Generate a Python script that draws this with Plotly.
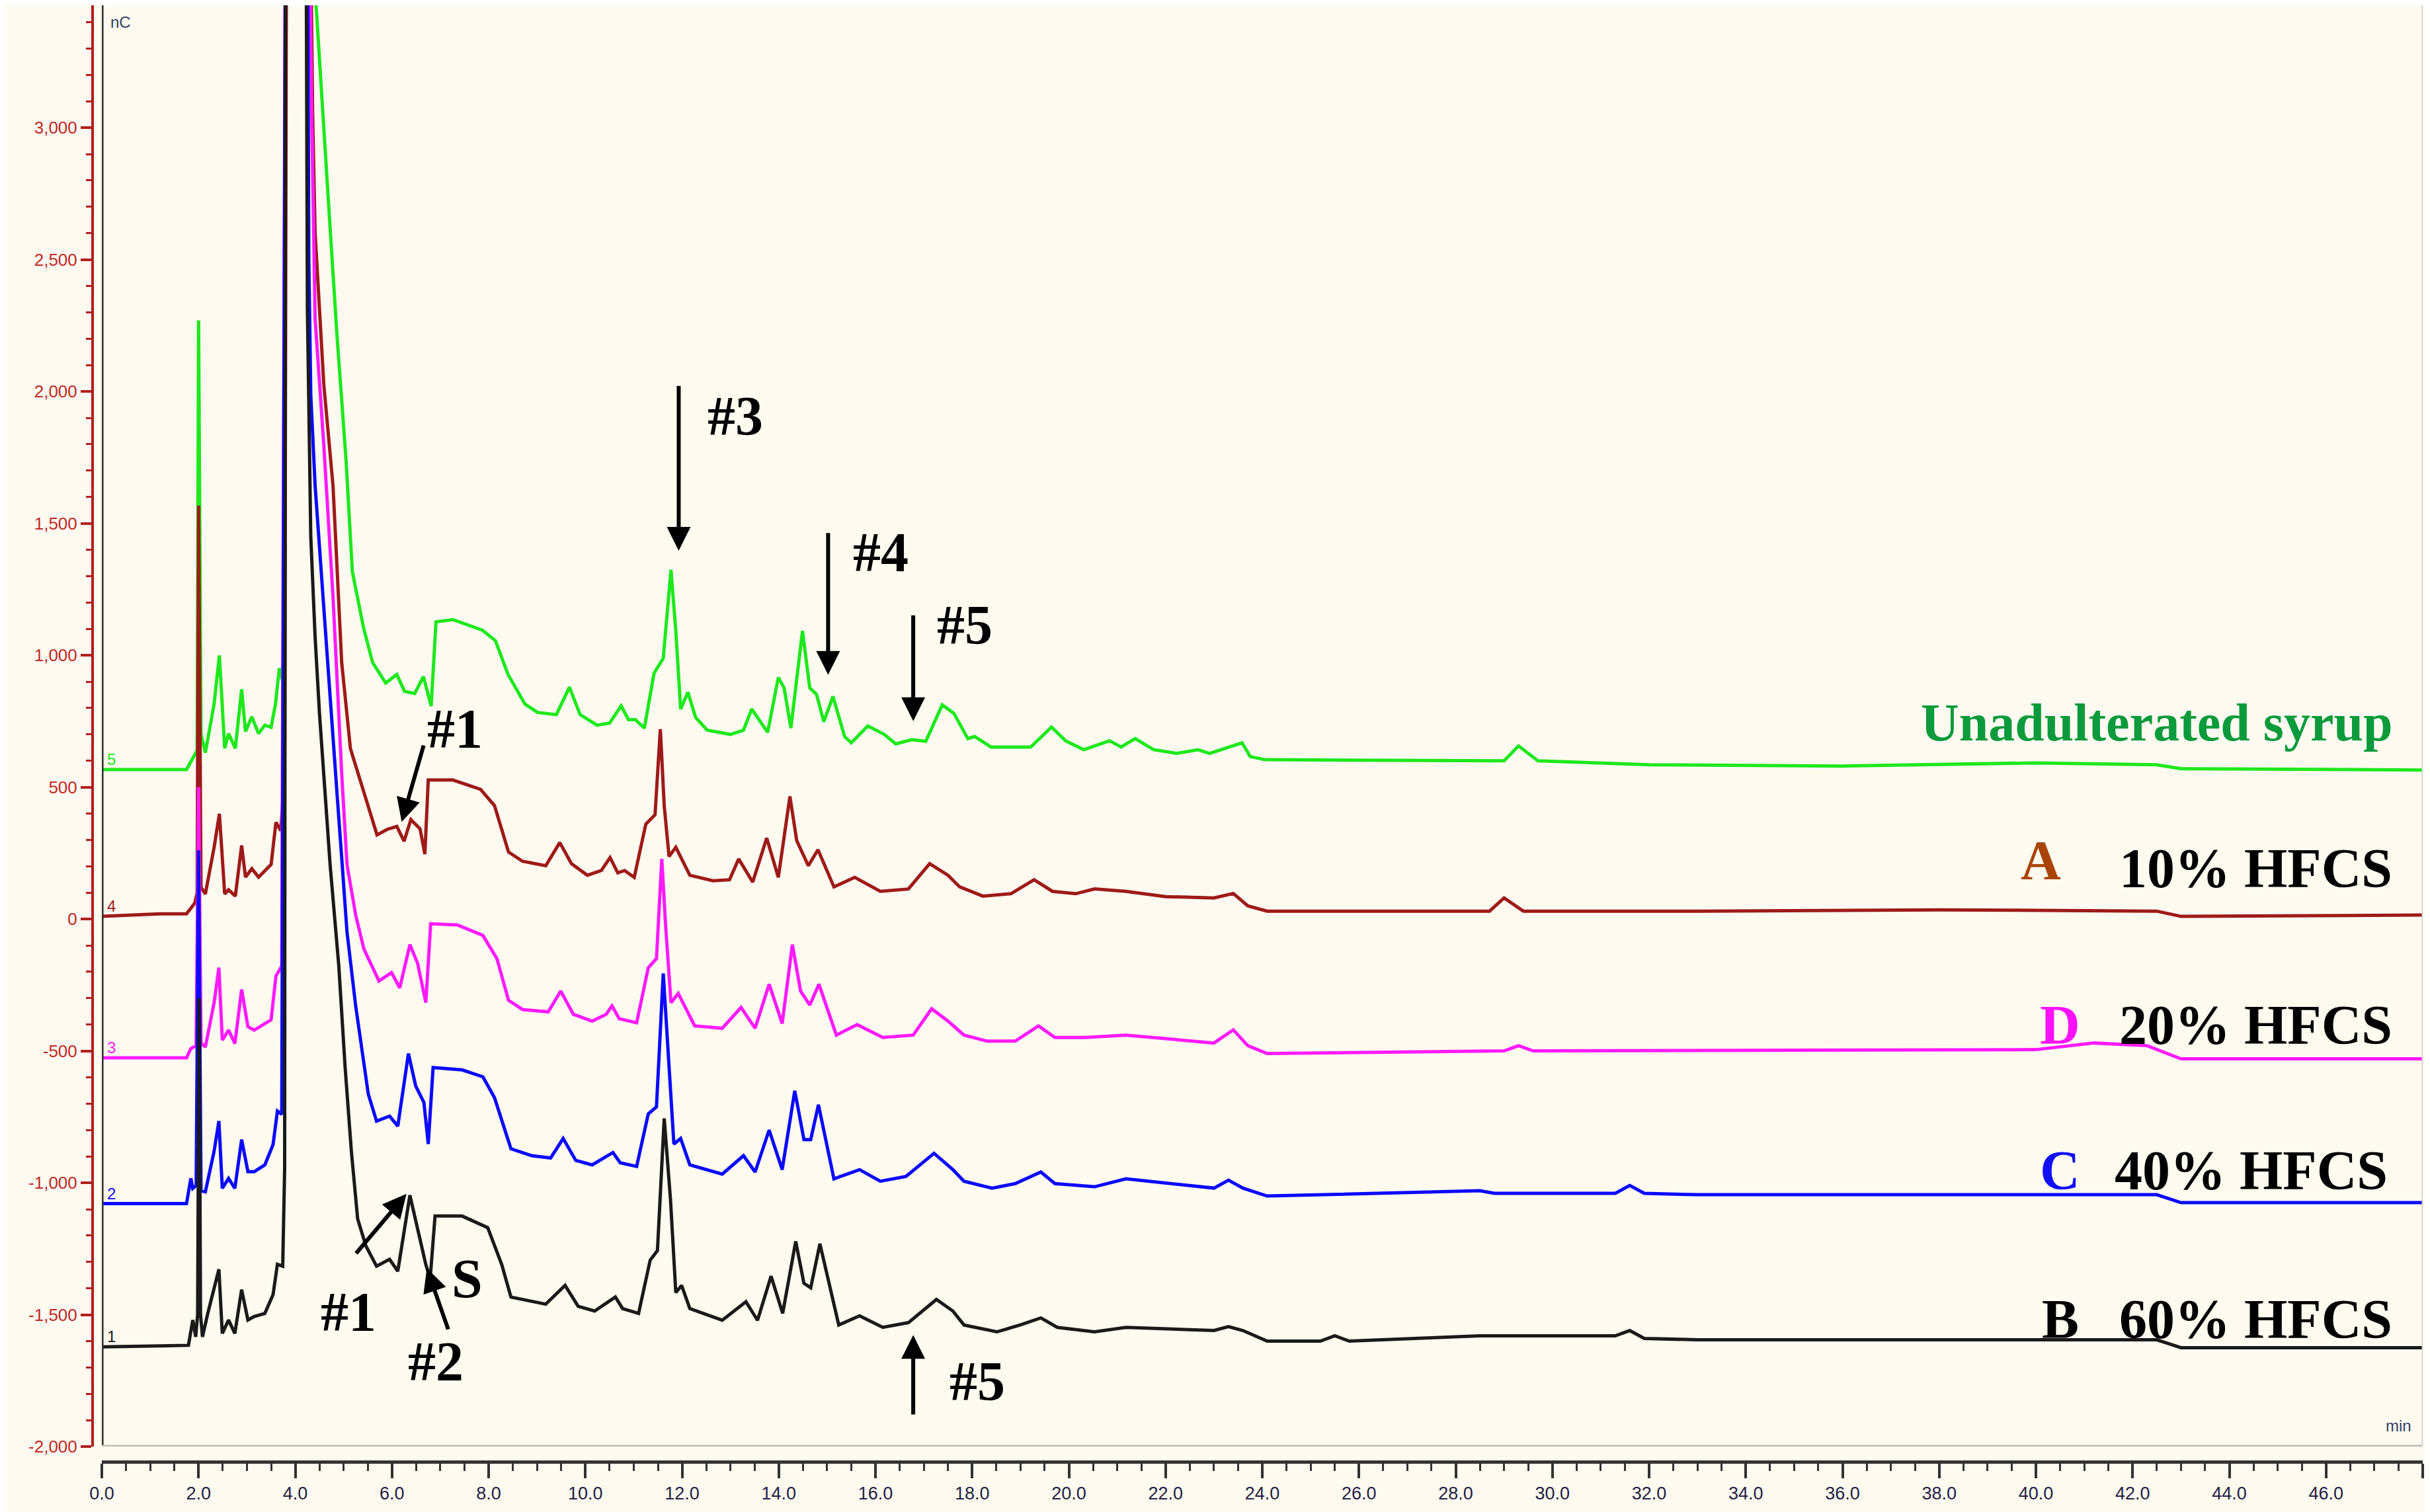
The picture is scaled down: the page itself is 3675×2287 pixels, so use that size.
import plotly.graph_objects as go

# retention time (min) / response (nC)
G_T = [0,1.75,1.92,1.97,2.0,2.05,2.14,2.32,2.43,2.54,2.62,2.76,2.89,2.97,3.1,3.24,3.37,3.5,3.59,3.67,3.76,3.82,4.3,4.43,4.68,4.86,5.05,5.18,5.41,5.6,5.87,6.1,6.26,6.47,6.65,6.81,6.91,7.26,7.87,8.14,8.4,8.75,9.01,9.4,9.67,9.89,10.24,10.5,10.74,10.89,11.03,11.22,11.42,11.61,11.77,11.87,11.97,12.12,12.28,12.52,13.0,13.27,13.44,13.77,13.99,14.11,14.25,14.49,14.64,14.78,14.93,15.12,15.36,15.5,15.84,16.18,16.42,16.75,17.04,17.38,17.62,17.91,18.05,18.39,19.21,19.64,19.93,20.31,20.84,21.08,21.37,21.75,22.23,22.67,22.91,23.58,23.75,24.06,29.0,29.3,29.7,32,36,40,42.5,43,48]
G_V = [567,567,623,640,2270,700,631,815,999,647,703,647,871,711,767,703,735,727,815,951,887,4000,4000,3464,2736,2218,1739,1317,1106,972,895,927,863,855,919,807,1127,1135,1095,1055,927,815,783,775,879,775,735,743,808,756,756,724,932,988,1324,1092,796,860,764,716,700,716,796,708,916,876,724,1092,876,852,748,844,692,668,732,700,664,680,674,812,780,684,692,652,652,728,676,642,676,652,684,642,628,642,628,668,616,604,600,656,600,585,580,592,585,570,565]

R_T = [0,1.2,1.75,1.92,1.97,2.0,2.05,2.14,2.32,2.43,2.54,2.62,2.76,2.89,2.97,3.1,3.24,3.5,3.6,3.7,3.78,3.82,4.3,4.36,4.41,4.59,4.78,4.96,5.14,5.42,5.69,5.9,6.1,6.25,6.39,6.58,6.68,6.75,7.26,7.83,8.12,8.41,8.7,9.18,9.47,9.71,10.04,10.33,10.51,10.67,10.81,11.01,11.25,11.44,11.55,11.63,11.73,11.87,12.16,12.64,12.98,13.17,13.46,13.75,13.99,14.23,14.37,14.61,14.81,15.14,15.57,16.1,16.68,17.12,17.5,17.74,18.22,18.8,19.28,19.66,20.14,20.53,21.18,22.0,23.0,23.4,23.7,24.1,28.7,29.0,29.4,33,38,42.5,43,48]
R_V = [10,20,20,60,100,1567,120,95,271,399,95,111,87,279,159,191,159,207,367,335,559,4000,4000,3042,2601,2026,1643,972,646,480,319,340,351,295,377,342,246,527,527,492,430,254,219,202,290,210,166,184,233,175,184,158,360,395,720,430,237,272,166,145,149,228,140,307,158,465,298,202,263,122,158,105,114,210,166,122,87,96,149,105,96,114,105,85,80,97,50,30,30,80,30,30,35,30,10,15]

M_T = [0,1.75,1.84,1.95,2.0,2.05,2.14,2.32,2.42,2.49,2.62,2.75,2.89,3.02,3.15,3.37,3.5,3.6,3.72,3.8,4.28,4.34,4.41,4.59,4.78,4.96,5.07,5.25,5.42,5.73,5.99,6.16,6.37,6.53,6.7,6.8,7.35,7.88,8.17,8.41,8.7,9.23,9.49,9.75,10.14,10.43,10.55,10.7,11.06,11.3,11.47,11.58,11.66,11.77,11.92,12.26,12.83,13.22,13.51,13.8,14.07,14.28,14.45,14.64,14.83,15.19,15.62,16.15,16.78,17.16,17.5,17.83,18.31,18.89,19.37,19.71,20.34,21.18,23.0,23.4,23.7,24.1,29,29.3,29.6,40,41.2,42.3,43,48]
M_V = [-526,-526,-491,-480,500,-470,-485,-318,-184,-459,-421,-472,-267,-408,-421,-395,-382,-216,-178,4000,4000,3042,2275,1796,1221,550,206,14,-114,-235,-203,-261,-97,-168,-317,-18,-22,-62,-150,-308,-343,-352,-273,-361,-387,-361,-329,-378,-393,-185,-150,228,-27,-317,-282,-405,-414,-335,-414,-247,-396,-97,-273,-326,-247,-440,-400,-449,-440,-340,-387,-440,-463,-463,-405,-449,-449,-440,-470,-420,-480,-510,-500,-480,-500,-495,-470,-480,-530,-530]

B_T = [0,1.75,1.84,1.88,1.95,2.0,2.05,2.14,2.32,2.42,2.49,2.62,2.75,2.89,3.02,3.15,3.37,3.54,3.63,3.72,3.8,4.25,4.28,4.32,4.41,4.59,4.78,4.87,4.97,5.07,5.25,5.51,5.68,5.95,6.12,6.34,6.49,6.66,6.75,6.85,7.45,7.88,8.12,8.46,8.89,9.28,9.54,9.8,10.14,10.57,10.72,11.06,11.3,11.47,11.61,11.73,11.83,11.97,12.16,12.83,13.27,13.51,13.8,14.07,14.33,14.52,14.66,14.82,15.14,15.67,16.1,16.63,17.21,17.6,17.83,18.41,18.89,19.42,19.71,20.53,21.18,23.0,23.3,23.6,24.1,28.5,28.8,31.3,31.6,31.9,33,42.5,43,48]
B_V = [-1079,-1079,-983,-1021,-1010,260,-1030,-1034,-881,-766,-1021,-983,-1021,-836,-958,-958,-932,-855,-728,-740,4000,4000,2500,1988,1643,1164,684,458,206,-50,-331,-664,-766,-747,-785,-510,-633,-695,-853,-563,-572,-598,-677,-871,-897,-906,-832,-915,-932,-885,-924,-938,-739,-712,-206,-537,-853,-832,-932,-967,-897,-959,-800,-950,-651,-836,-836,-704,-985,-950,-994,-976,-888,-950,-994,-1020,-1003,-959,-1003,-1015,-985,-1020,-990,-1020,-1050,-1030,-1040,-1040,-1010,-1040,-1045,-1045,-1075,-1075]

K_T = [0,1.79,1.88,1.94,1.98,2.01,2.04,2.08,2.19,2.32,2.42,2.49,2.62,2.75,2.89,3.02,3.15,3.37,3.54,3.63,3.74,3.78,3.8,4.22,4.25,4.32,4.41,4.5,4.59,4.72,4.9,5.03,5.16,5.29,5.46,5.68,5.95,6.12,6.37,6.53,6.7,6.79,6.89,7.45,7.98,8.27,8.46,9.18,9.58,9.85,10.19,10.62,10.77,11.1,11.34,11.49,11.63,11.76,11.87,11.99,12.16,12.83,13.32,13.56,13.84,14.08,14.35,14.52,14.66,14.85,15.24,15.67,16.15,16.68,17.26,17.6,17.83,18.51,18.99,19.42,19.76,20.53,21.18,23.0,23.3,23.6,24.1,25.2,25.5,25.8,28.5,31.3,31.6,31.9,33,42.5,43,48]
K_V = [-1622,-1616,-1520,-1584,-1500,-300,-1500,-1584,-1495,-1405,-1328,-1571,-1520,-1571,-1405,-1520,-1507,-1495,-1424,-1309,-1316,-945,4000,4000,2314,1451,1068,780,550,206,-178,-561,-881,-1137,-1239,-1316,-1290,-1335,-1047,-1170,-1310,-1363,-1126,-1126,-1170,-1310,-1433,-1460,-1389,-1468,-1486,-1433,-1477,-1495,-1293,-1257,-756,-1064,-1416,-1389,-1477,-1521,-1451,-1521,-1354,-1495,-1222,-1381,-1398,-1231,-1539,-1504,-1548,-1530,-1442,-1486,-1539,-1565,-1539,-1512,-1548,-1565,-1548,-1560,-1545,-1560,-1600,-1600,-1580,-1600,-1580,-1580,-1560,-1590,-1595,-1595,-1625,-1625]

SERIES = [("5", G_T, G_V, "#1ee81e"), ("4", R_T, R_V, "#9e1a1a"),
          ("3", M_T, M_V, "#ff1aff"), ("2", B_T, B_V, "#0a0aff"),
          ("1", K_T, K_V, "#1a1a1a")]
for n, t, v, c in SERIES:
    assert len(t) == len(v), (n, len(t), len(v))

X_TICKS = [i * 2 for i in range(25)]
Y_TICKS = [-2000, -1500, -1000, -500, 0, 500, 1000, 1500, 2000, 2500, 3000]

fig = go.Figure()
for n, t, v, c in SERIES:
    fig.add_trace(go.Scatter(x=t, y=v, mode="lines", line=dict(color=c, width=5),
                             showlegend=False, hoverinfo="skip"))
    fig.add_annotation(x=0.08, y=v[0], text=n, showarrow=False, xanchor="left",
                       yanchor="bottom", font=dict(size=24, color=c, family="Liberation Sans"))

BG = "#fefaf0"
fig.update_layout(
    width=3675, height=2287, paper_bgcolor=BG, plot_bgcolor=BG,
    margin=dict(l=132, r=19, t=0, b=84),
    xaxis=dict(range=[0, 48], domain=[0.004, 1], anchor="free", position=0,
               tickvals=X_TICKS, ticktext=[f"{x:.1f}" for x in X_TICKS],
               showline=True, linecolor="#333", linewidth=5, ticks="outside",
               ticklen=22, tickwidth=4, tickcolor="#333", mirror=False,
               minor=dict(dtick=0.5, ticks="outside", ticklen=11, tickcolor="#333", tickwidth=3),
               tickfont=dict(size=27, color="#222244", family="Liberation Sans"),
               showgrid=False, zeroline=False),
    yaxis=dict(range=[-2000, 3464], domain=[0.0104, 1], anchor="free", position=0,
               tickvals=Y_TICKS, ticktext=[f"{y:,}" for y in Y_TICKS],
               showline=True, linecolor="#b02020", linewidth=4, ticks="outside",
               ticklen=16, tickwidth=4, tickcolor="#b02020",
               minor=dict(dtick=100, ticks="outside", ticklen=8, tickcolor="#b02020", tickwidth=3),
               tickfont=dict(size=26, color="#c02828", family="Liberation Sans"),
               showgrid=False, zeroline=False),
)
fig.add_shape(type="line", xref="x", yref="paper", x0=0, x1=0, y0=0.0104, y1=1,
              line=dict(color="#333", width=5))
fig.add_shape(type="line", xref="paper", yref="y", x0=0.004, x1=1, y0=-2000, y1=-2000,
              line=dict(color="#bbbbbb", width=5))
fig.add_shape(type="line", xref="x", yref="paper", x0=48, x1=48, y0=0.0104, y1=1,
              line=dict(color="#cccccc", width=3))
fig.add_annotation(x=0.15, y=3440, text="nC", showarrow=False, xanchor="left", yanchor="top",
                   font=dict(size=24, color="#334466", family="Liberation Sans"))
fig.add_annotation(x=47.8, y=-1920, text="min", showarrow=False, xanchor="right",
                   font=dict(size=24, color="#334466", family="Liberation Sans"))

SERIF = "Liberation Serif"
def label(x, y, text, size=84, color="black", anchor="left"):
    fig.add_annotation(x=x, y=y, text=text, showarrow=False, xanchor=anchor,
                       font=dict(size=size, color=color, family=SERIF))

def arrow(x0, y0, x1, y1):
    fig.add_annotation(x=x1, y=y1, ax=x0, ay=y0, axref="x", ayref="y", text="",
                       showarrow=True, arrowhead=2, arrowsize=1.2, arrowwidth=6,
                       arrowcolor="black")

B = lambda s: f"<b>{s}</b>"
arrow(11.93, 2025, 11.93, 1396); label(12.5, 1907, B("#3"))
arrow(15.02, 1467, 15.02, 926); label(15.5, 1390, B("#4"))
arrow(16.78, 1155, 16.78, 750); label(17.25, 1114, B("#5"))
arrow(6.66, 662, 6.2, 368); label(6.7, 720, B("#1"))
arrow(5.24, -1271, 6.3, -1042); label(4.5, -1489, B("#1"))
arrow(7.17, -1559, 6.72, -1324); label(6.3, -1677, B("#2"))
label(7.2, -1365, B("S"))
arrow(16.78, -1882, 16.78, -1577); label(17.5, -1753, B("#5"))

label(47.4, 744, B("Unadulterated syrup"), size=80, color="#0b9a3c", anchor="right")
label(40.1, 221, B("A"), size=84, color="#a8440a", anchor="center")
label(47.4, 192, B("10% HFCS"), size=84, anchor="right")
label(40.5, -402, B("D"), size=84, color="#ff10ff", anchor="center")
label(47.4, -402, B("20% HFCS"), size=84, anchor="right")
label(40.5, -954, B("C"), size=84, color="#1010ff", anchor="center")
label(47.3, -954, B("40% HFCS"), size=84, anchor="right")
label(40.5, -1518, B("B"), size=84, anchor="center")
label(47.4, -1518, B("60% HFCS"), size=84, anchor="right")

fig.write_html("out.html")
